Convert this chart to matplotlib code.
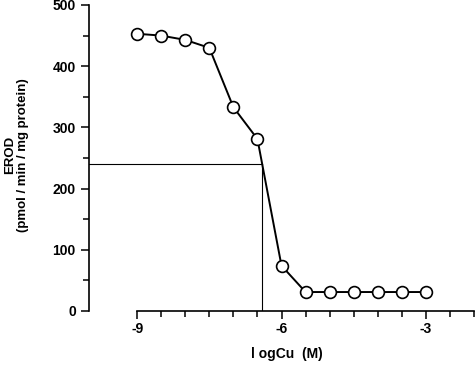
import matplotlib
matplotlib.use("Agg")
import matplotlib.pyplot as plt
from matplotlib.ticker import FixedLocator
import numpy as np

plt.rcParams['font.family'] = ['Liberation Sans', 'DejaVu Sans']

log_cu = [-9, -8.5, -8, -7.5, -7, -6.5, -6, -5.5, -5, -4.5, -4, -3.5, -3]
erod = [453, 450, 443, 430, 333, 281, 74, 31, 31, 31, 31, 31, 31]
half_x = -6.4
half_y = 240

fig = plt.figure(figsize=(4.75, 3.68), dpi=100)
ax = fig.add_axes([89/475, 1-311/368, 385/475, 306/368])

ax.plot([-10, half_x], [half_y, half_y], color='black', lw=0.8, zorder=1)
ax.plot([half_x, half_x], [0, half_y], color='black', lw=0.8, zorder=1)
ax.plot(log_cu, erod, color='black', lw=1.4, marker='o', markersize=8.5,
        markerfacecolor='white', markeredgecolor='black', markeredgewidth=1.2,
        zorder=3, clip_on=False)

ax.set_xlim(-10, -2)
ax.set_ylim(0, 500)
for s in ['top', 'right']:
    ax.spines[s].set_visible(False)
ax.spines['bottom'].set_bounds(-9, -2)
ax.spines['left'].set_linewidth(1.2)
ax.spines['bottom'].set_linewidth(1.2)

ax.set_xticks([-9, -6, -3])
ax.set_xticklabels(['-9', '-6', '-3'])
ax.xaxis.set_minor_locator(FixedLocator(np.arange(-9, -1.9, 0.5)))
ax.set_yticks([0, 100, 200, 300, 400, 500])
ax.yaxis.set_minor_locator(FixedLocator(np.arange(0, 501, 50)))
ax.tick_params(which='both', direction='out', width=1.1, labelsize=10)
ax.tick_params(which='major', length=6)
ax.tick_params(which='minor', length=4)
for lab in ax.get_xticklabels() + ax.get_yticklabels():
    lab.set_fontweight('bold')
ax.tick_params(axis='x', pad=2)

ax.set_xlabel('l ogCu  (M)', fontsize=10, fontweight='bold')
ax.xaxis.set_label_coords((287-89)/385, -36/306)
ax.set_ylabel('EROD\n(pmol / min / mg protein)', fontsize=9.5, fontweight='bold',
              linespacing=1.05)
ax.yaxis.set_label_coords(-60/385, 0.51)

fig.savefig('out.png', dpi=100)
